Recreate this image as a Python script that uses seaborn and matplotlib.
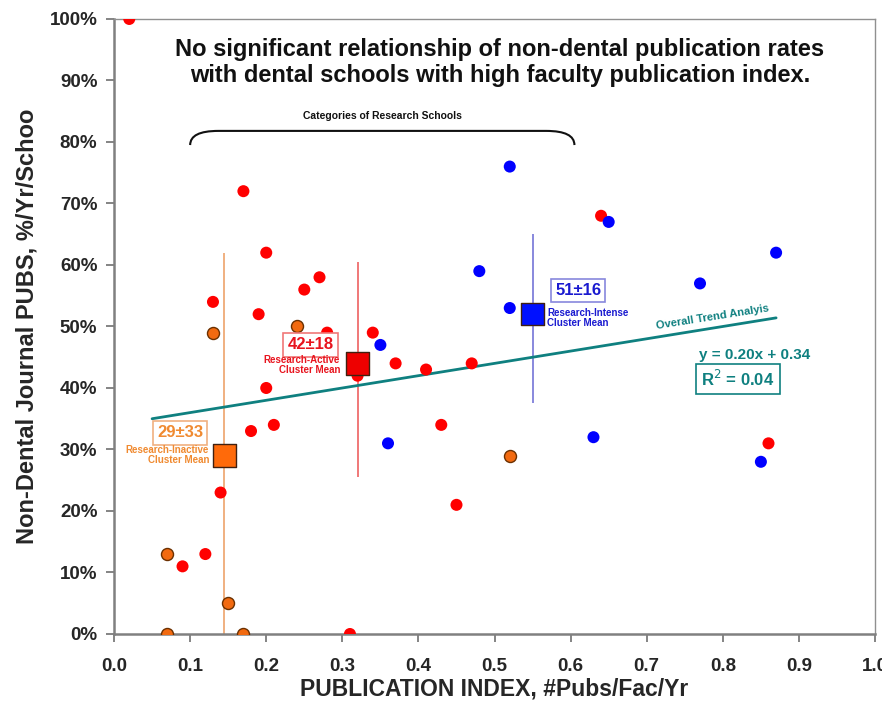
import pandas as pd
import numpy as np
import matplotlib
matplotlib.use('Agg')
import matplotlib.pyplot as plt
import matplotlib.ticker as mticker
from matplotlib.path import Path
from matplotlib.patches import PathPatch
import seaborn as sns

# schools by category: publication index, non-dental pubs share
active_x = [0.02, 0.17, 0.20, 0.27, 0.13, 0.25, 0.19, 0.28, 0.34, 0.37, 0.41, 0.47,
            0.32, 0.20, 0.21, 0.18, 0.43, 0.14, 0.45, 0.12, 0.09, 0.31, 0.64, 0.86]
active_y = [1.00, 0.72, 0.62, 0.58, 0.54, 0.56, 0.52, 0.49, 0.49, 0.44, 0.43, 0.44,
            0.42, 0.40, 0.34, 0.33, 0.34, 0.23, 0.21, 0.13, 0.11, 0.00, 0.68, 0.31]
intense_x = [0.52, 0.65, 0.48, 0.52, 0.35, 0.36, 0.63, 0.77, 0.87, 0.85]
intense_y = [0.76, 0.67, 0.59, 0.53, 0.47, 0.31, 0.32, 0.57, 0.62, 0.28]
inactive_x = [0.13, 0.24, 0.07, 0.15, 0.07, 0.17, 0.52]
inactive_y = [0.49, 0.50, 0.13, 0.05, 0.00, 0.00, 0.29]

# cluster means and their whiskers
cluster_names = ['Inactive', 'Active', 'Intense']
cluster_x = [0.145, 0.32, 0.55]
cluster_y = [0.29, 0.44, 0.52]
cluster_lo = [0.0, 0.255, 0.375]
cluster_hi = [0.62, 0.605, 0.65]
cluster_text = ['29±33', '42±18', '51±16']

slope, intercept = 0.20, 0.34
trend_x = [0.05, 0.87]

df = pd.DataFrame({
    'x': active_x + intense_x + inactive_x,
    'y': active_y + intense_y + inactive_y,
    'group': ['Active'] * len(active_x) + ['Intense'] * len(intense_x) + ['Inactive'] * len(inactive_x),
})
means = pd.DataFrame({'x': cluster_x, 'y': cluster_y, 'group': cluster_names})

sns.set_style('white')
plt.rcParams['font.family'] = ['Liberation Sans', 'DejaVu Sans']

dot_colors = {'Active': '#ff0000', 'Intense': '#0000ff', 'Inactive': '#f26a10'}
line_colors = {'Active': '#f07878', 'Intense': '#8888dd', 'Inactive': '#f0b080'}
text_colors = {'Active': '#e8141e', 'Intense': '#1a1ad0', 'Inactive': '#f08a30'}
teal = '#0f8080'

fig = plt.figure(figsize=(8.82, 7.13), dpi=100)
ax = fig.add_axes([0.1293, 0.1108, 0.8628, 0.8626])

# whiskers behind everything
for name, x, lo, hi in zip(cluster_names, cluster_x, cluster_lo, cluster_hi):
    ax.vlines(x, lo, hi, color=line_colors[name], lw=1.4, zorder=1)

# trend line
tx = np.array(trend_x)
sns.lineplot(x=tx, y=slope * tx + intercept, color=teal, lw=2, ax=ax, zorder=2)

for name, edge in [('Active', 'none'), ('Intense', 'none'), ('Inactive', '#6b3000')]:
    sns.scatterplot(data=df[df.group == name], x='x', y='y', color=dot_colors[name],
                    s=75, edgecolor=edge, linewidth=1.0, ax=ax, zorder=3, legend=False)

sns.scatterplot(data=means, x='x', y='y', hue='group', palette={'Inactive': '#ff6a0a', 'Active': '#ee0000', 'Intense': '#0010ff'},
                marker='s', s=260, edgecolor='#402010', linewidth=1.0, ax=ax, zorder=4, legend=False)

ax.set_xlim(0, 1.0)
ax.set_ylim(0, 1.0)
ax.xaxis.set_major_locator(mticker.MultipleLocator(0.1))
ax.yaxis.set_major_locator(mticker.MultipleLocator(0.1))
ax.xaxis.set_major_formatter(mticker.FormatStrFormatter('%.1f'))
ax.yaxis.set_major_formatter(mticker.PercentFormatter(1.0, decimals=0))
ax.tick_params(axis='both', which='major', direction='out', length=6, width=1.2,
               color='#707070', labelsize=13.5, pad=6)
ax.tick_params(axis='x', pad=11)
for lab in ax.get_xticklabels() + ax.get_yticklabels():
    lab.set_fontweight('bold')
ax.xaxis.set_ticks_position('bottom')
ax.yaxis.set_ticks_position('left')
for side in ['left', 'bottom']:
    ax.spines[side].set_color('#808080')
    ax.spines[side].set_linewidth(1.8)
for side in ['top', 'right']:
    ax.spines[side].set_color('#909090')
    ax.spines[side].set_linewidth(1.0)

ax.set_xlabel('PUBLICATION INDEX, #Pubs/Fac/Yr', fontsize=16.5, fontweight='bold', labelpad=2)
ax.set_ylabel('Non-Dental Journal PUBS, %/Yr/Schoo', fontsize=17, fontweight='bold', labelpad=8)

ax.text(0.507, 0.929, 'No significant relationship of non-dental publication rates\n'
        'with dental schools with high faculty publication index.',
        ha='center', va='center', fontsize=17, fontweight='bold', color='#111111', linespacing=1.2)

# categories brace
verts = [(0.1, 0.795), (0.1, 0.818), (0.137, 0.818), (0.568, 0.818), (0.605, 0.818), (0.605, 0.795)]
codes = [Path.MOVETO, Path.CURVE3, Path.CURVE3, Path.LINETO, Path.CURVE3, Path.CURVE3]
ax.add_patch(PathPatch(Path(verts, codes), fill=False, lw=1.5, color='#111111'))
ax.text(0.353, 0.843, 'Categories of Research Schools', ha='center', va='center',
        fontsize=7.5, fontweight='bold', color='#111111')

# cluster labels
box_pos = {'Inactive': (0.087, 0.327), 'Active': (0.258, 0.47), 'Intense': (0.61, 0.559)}
for name, txt in zip(cluster_names, cluster_text):
    bx, by = box_pos[name]
    ax.text(bx, by, txt, ha='center', va='center', fontsize=12, fontweight='bold',
            color=text_colors[name],
            bbox=dict(boxstyle='square,pad=0.25', fc='white', ec=line_colors[name], lw=1.2))
ax.text(0.125, 0.291, 'Research-Inactive\nCluster Mean', ha='right', va='center', fontsize=7,
        fontweight='bold', color=text_colors['Inactive'], linespacing=1.0)
ax.text(0.297, 0.437, 'Research-Active\nCluster Mean', ha='right', va='center', fontsize=7,
        fontweight='bold', color=text_colors['Active'], linespacing=1.0)
ax.text(0.569, 0.514, 'Research-Intense\nCluster Mean', ha='left', va='center', fontsize=7,
        fontweight='bold', color=text_colors['Intense'], linespacing=1.0)

# trend annotation
ax.text(0.787, 0.516, 'Overall Trend Analyis', ha='center', va='center', fontsize=8,
        fontweight='bold', color=teal, rotation=9)
ax.text(0.842, 0.454, f'y = {slope:.2f}x + {intercept:.2f}', ha='center', va='center',
        fontsize=11, fontweight='bold', color=teal)
ax.text(0.82, 0.415, r'R$^2$ = 0.04', ha='center', va='center', fontsize=12,
        fontweight='bold', color=teal,
        bbox=dict(boxstyle='square,pad=0.3', fc='white', ec=teal, lw=1.2))

fig.savefig('out.png', dpi=100)
